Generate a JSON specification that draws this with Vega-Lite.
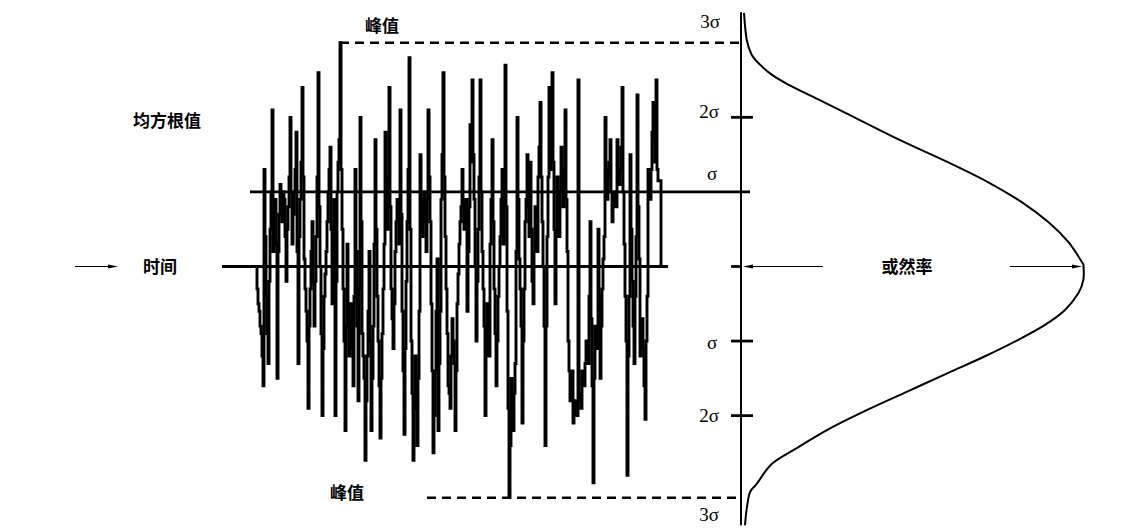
{
  "$schema": "https://vega.github.io/schema/vega-lite/v6.json",
  "width": 1140,
  "height": 530,
  "autosize": {"type": "fit", "contains": "padding"},
  "padding": 0,
  "background": "white",
  "config": {"view": {"stroke": null}},
  "datasets": {
    "signal": [
      {"t":256,"v":0},{"t":257,"v":-0.3},{"t":258,"v":-0.5},{"t":259,"v":-0.6},{"t":260,"v":-0.8},{"t":261,"v":-0.9},{"t":262,"v":-1.2},{"t":263,"v":-1.6},{"t":264,"v":1.3},{"t":265,"v":0.4},{"t":266,"v":-0.4},{"t":267,"v":-0.9},{"t":268,"v":-1.3},{"t":269,"v":-0.2},{"t":270,"v":0.5},{"t":271,"v":1.0},{"t":272,"v":2.1},{"t":273,"v":0.2},{"t":274,"v":0.6},{"t":275,"v":0.9},{"t":276,"v":0.3},{"t":277,"v":-1.5},{"t":278,"v":0.2},{"t":279,"v":0.7},{"t":280,"v":1.1},{"t":281,"v":0.8},{"t":282,"v":0.6},{"t":283,"v":1.0},{"t":284,"v":0.9},{"t":285,"v":0.4},{"t":286,"v":-0.2},{"t":287,"v":0.5},{"t":288,"v":0.8},{"t":289,"v":1.2},{"t":290,"v":2.0},{"t":291,"v":1.0},{"t":292,"v":0.3},{"t":293,"v":0.7},{"t":294,"v":1.0},{"t":295,"v":1.3},{"t":296,"v":1.8},{"t":297,"v":0.2},{"t":298,"v":-1.3},{"t":299,"v":0.4},{"t":300,"v":0.9},{"t":301,"v":1.4},{"t":302,"v":2.4},{"t":303,"v":1.2},{"t":304,"v":0.1},{"t":305,"v":-0.3},{"t":306,"v":-0.6},{"t":307,"v":-1.0},{"t":308,"v":-1.9},{"t":309,"v":-0.8},{"t":310,"v":-0.3},{"t":311,"v":0.2},{"t":312,"v":0.6},{"t":313,"v":-0.2},{"t":314,"v":-0.8},{"t":315,"v":-0.2},{"t":316,"v":0.4},{"t":317,"v":1.2},{"t":318,"v":2.6},{"t":319,"v":0.8},{"t":320,"v":0.0},{"t":321,"v":-0.9},{"t":322,"v":-2.0},{"t":323,"v":-1.1},{"t":324,"v":-0.4},{"t":325,"v":-0.1},{"t":326,"v":0.2},{"t":327,"v":0.6},{"t":328,"v":1.0},{"t":329,"v":1.3},{"t":330,"v":1.6},{"t":331,"v":0.5},{"t":332,"v":-0.5},{"t":333,"v":0.3},{"t":334,"v":0.9},{"t":335,"v":-2.0},{"t":336,"v":-0.2},{"t":337,"v":1.0},{"t":338,"v":1.4},{"t":339,"v":1.7},{"t":340,"v":3.0},{"t":341,"v":1.3},{"t":342,"v":0.5},{"t":343,"v":-0.3},{"t":344,"v":-1.0},{"t":345,"v":-2.2},{"t":346,"v":-0.8},{"t":347,"v":0.3},{"t":348,"v":-0.5},{"t":349,"v":-1.2},{"t":350,"v":-0.9},{"t":351,"v":-0.5},{"t":352,"v":-1.1},{"t":353,"v":-1.6},{"t":354,"v":-0.4},{"t":355,"v":1.3},{"t":356,"v":0.2},{"t":357,"v":-0.8},{"t":358,"v":-1.8},{"t":359,"v":-0.3},{"t":360,"v":2.0},{"t":361,"v":0.6},{"t":362,"v":-0.9},{"t":363,"v":-1.2},{"t":364,"v":-1.5},{"t":365,"v":-2.6},{"t":366,"v":-1.8},{"t":367,"v":-1.2},{"t":368,"v":-0.6},{"t":369,"v":0.2},{"t":370,"v":-1.0},{"t":371,"v":-2.2},{"t":372,"v":-1.5},{"t":373,"v":-0.8},{"t":374,"v":0.3},{"t":375,"v":1.7},{"t":376,"v":0.5},{"t":377,"v":-0.4},{"t":378,"v":-1.0},{"t":379,"v":-1.6},{"t":380,"v":-2.3},{"t":381,"v":-1.5},{"t":382,"v":-0.9},{"t":383,"v":-0.3},{"t":384,"v":0.3},{"t":385,"v":1.8},{"t":386,"v":1.0},{"t":387,"v":0.5},{"t":388,"v":1.2},{"t":389,"v":2.4},{"t":390,"v":0.8},{"t":391,"v":-0.3},{"t":392,"v":-0.7},{"t":393,"v":-1.1},{"t":394,"v":-0.5},{"t":395,"v":0.2},{"t":396,"v":0.6},{"t":397,"v":0.9},{"t":398,"v":0.6},{"t":399,"v":0.3},{"t":400,"v":2.1},{"t":401,"v":0.7},{"t":402,"v":-0.6},{"t":403,"v":-1.4},{"t":404,"v":-2.25},{"t":405,"v":-1.1},{"t":406,"v":-0.2},{"t":407,"v":0.6},{"t":408,"v":1.3},{"t":409,"v":2.8},{"t":410,"v":0.5},{"t":411,"v":-1.0},{"t":412,"v":-1.7},{"t":413,"v":-2.6},{"t":414,"v":-1.9},{"t":415,"v":-1.2},{"t":416,"v":-1.8},{"t":417,"v":-2.4},{"t":418,"v":-1.5},{"t":419,"v":-0.6},{"t":420,"v":1.5},{"t":421,"v":0.9},{"t":422,"v":0.4},{"t":423,"v":0.8},{"t":424,"v":1.0},{"t":425,"v":0.6},{"t":426,"v":0.2},{"t":427,"v":0.9},{"t":428,"v":2.1},{"t":429,"v":1.2},{"t":430,"v":0.6},{"t":431,"v":-0.5},{"t":432,"v":-1.4},{"t":433,"v":-2.5},{"t":434,"v":-2.0},{"t":435,"v":-1.4},{"t":436,"v":-0.6},{"t":437,"v":0.1},{"t":438,"v":-2.2},{"t":439,"v":-1.3},{"t":440,"v":-0.6},{"t":441,"v":0.9},{"t":442,"v":1.5},{"t":443,"v":2.6},{"t":444,"v":1.2},{"t":445,"v":0.4},{"t":446,"v":-0.3},{"t":447,"v":-0.9},{"t":448,"v":-1.6},{"t":449,"v":-1.7},{"t":450,"v":-1.9},{"t":451,"v":-1.2},{"t":452,"v":-0.7},{"t":453,"v":-1.0},{"t":454,"v":-1.3},{"t":455,"v":-2.2},{"t":456,"v":-1.4},{"t":457,"v":-0.5},{"t":458,"v":-0.1},{"t":459,"v":0.3},{"t":460,"v":0.6},{"t":461,"v":0.8},{"t":462,"v":1.3},{"t":463,"v":0.9},{"t":464,"v":0.5},{"t":465,"v":0.7},{"t":466,"v":0.9},{"t":467,"v":-0.6},{"t":468,"v":0.2},{"t":469,"v":0.8},{"t":470,"v":1.9},{"t":471,"v":1.4},{"t":472,"v":2.5},{"t":473,"v":1.5},{"t":474,"v":0.9},{"t":475,"v":0.0},{"t":476,"v":-1.0},{"t":477,"v":-0.2},{"t":478,"v":0.5},{"t":479,"v":1.2},{"t":480,"v":2.5},{"t":481,"v":1.0},{"t":482,"v":0.2},{"t":483,"v":-0.3},{"t":484,"v":-0.8},{"t":485,"v":-2.0},{"t":486,"v":-1.2},{"t":487,"v":-0.5},{"t":488,"v":-0.8},{"t":489,"v":-1.2},{"t":490,"v":0.3},{"t":491,"v":0.9},{"t":492,"v":1.7},{"t":493,"v":0.6},{"t":494,"v":-0.3},{"t":495,"v":-0.9},{"t":496,"v":-1.6},{"t":497,"v":-1.0},{"t":498,"v":-0.4},{"t":499,"v":0.0},{"t":500,"v":0.4},{"t":501,"v":0.9},{"t":502,"v":1.3},{"t":503,"v":0.3},{"t":504,"v":1.2},{"t":505,"v":2.7},{"t":506,"v":0.8},{"t":507,"v":-0.6},{"t":508,"v":-1.9},{"t":509,"v":-3.1},{"t":510,"v":-2.4},{"t":511,"v":-1.5},{"t":512,"v":-1.8},{"t":513,"v":-2.2},{"t":514,"v":-1.7},{"t":515,"v":-1.3},{"t":516,"v":0.2},{"t":517,"v":2.0},{"t":518,"v":0.9},{"t":519,"v":0.1},{"t":520,"v":-0.3},{"t":521,"v":-0.8},{"t":522,"v":-2.1},{"t":523,"v":-1.0},{"t":524,"v":-0.3},{"t":525,"v":0.6},{"t":526,"v":0.9},{"t":527,"v":1.5},{"t":528,"v":0.8},{"t":529,"v":0.4},{"t":530,"v":1.4},{"t":531,"v":0.5},{"t":532,"v":-0.2},{"t":533,"v":-0.5},{"t":534,"v":0.2},{"t":535,"v":0.8},{"t":536,"v":0.5},{"t":537,"v":0.2},{"t":538,"v":1.2},{"t":539,"v":1.6},{"t":540,"v":2.2},{"t":541,"v":1.2},{"t":542,"v":0.6},{"t":543,"v":0.0},{"t":544,"v":-0.8},{"t":545,"v":-2.4},{"t":546,"v":-0.8},{"t":547,"v":0.4},{"t":548,"v":1.2},{"t":549,"v":2.4},{"t":550,"v":1.3},{"t":551,"v":1.8},{"t":552,"v":2.6},{"t":553,"v":1.4},{"t":554,"v":0.5},{"t":555,"v":-0.5},{"t":556,"v":0.4},{"t":557,"v":1.2},{"t":558,"v":0.8},{"t":559,"v":0.4},{"t":560,"v":1.0},{"t":561,"v":1.6},{"t":562,"v":1.2},{"t":563,"v":0.8},{"t":564,"v":1.3},{"t":565,"v":2.1},{"t":566,"v":0.9},{"t":567,"v":0.2},{"t":568,"v":-1.0},{"t":569,"v":-1.4},{"t":570,"v":-1.8},{"t":571,"v":-1.6},{"t":572,"v":-1.4},{"t":573,"v":-2.1},{"t":574,"v":-2.0},{"t":575,"v":-1.8},{"t":576,"v":-1.9},{"t":577,"v":-2.0},{"t":578,"v":2.5},{"t":579,"v":-1.7},{"t":580,"v":-1.8},{"t":581,"v":-1.9},{"t":582,"v":-1.4},{"t":583,"v":-1.5},{"t":584,"v":-1.6},{"t":585,"v":-1.3},{"t":586,"v":-1.0},{"t":587,"v":-1.2},{"t":588,"v":-1.3},{"t":589,"v":-0.4},{"t":590,"v":0.6},{"t":591,"v":-0.7},{"t":592,"v":-1.6},{"t":593,"v":-2.9},{"t":594,"v":-1.5},{"t":595,"v":-0.8},{"t":596,"v":-1.0},{"t":597,"v":-1.1},{"t":598,"v":0.5},{"t":599,"v":-0.4},{"t":600,"v":-1.5},{"t":601,"v":-0.8},{"t":602,"v":-0.3},{"t":603,"v":0.1},{"t":604,"v":0.4},{"t":605,"v":2.0},{"t":606,"v":1.3},{"t":607,"v":0.9},{"t":608,"v":1.2},{"t":609,"v":1.4},{"t":610,"v":1.7},{"t":611,"v":1.0},{"t":612,"v":0.6},{"t":613,"v":0.8},{"t":614,"v":1.0},{"t":615,"v":0.9},{"t":616,"v":0.8},{"t":617,"v":1.7},{"t":618,"v":1.3},{"t":619,"v":1.1},{"t":620,"v":1.3},{"t":621,"v":1.6},{"t":622,"v":2.4},{"t":623,"v":1.0},{"t":624,"v":0.3},{"t":625,"v":-0.4},{"t":626,"v":-1.0},{"t":627,"v":-2.8},{"t":628,"v":-1.2},{"t":629,"v":-0.4},{"t":630,"v":1.5},{"t":631,"v":0.5},{"t":632,"v":-0.2},{"t":633,"v":-0.8},{"t":634,"v":-1.3},{"t":635,"v":-0.4},{"t":636,"v":0.4},{"t":637,"v":2.3},{"t":638,"v":0.8},{"t":639,"v":0.1},{"t":640,"v":-1.2},{"t":641,"v":-0.9},{"t":642,"v":-0.7},{"t":643,"v":-1.1},{"t":644,"v":-1.6},{"t":645,"v":-2.05},{"t":646,"v":-1.0},{"t":647,"v":-0.4},{"t":648,"v":1.3},{"t":649,"v":1.1},{"t":650,"v":0.9},{"t":651,"v":1.3},{"t":652,"v":1.8},{"t":653,"v":2.2},{"t":654,"v":1.7},{"t":655,"v":1.4},{"t":656,"v":2.5},{"t":657,"v":1.3},{"t":658,"v":1.15},{"t":659,"v":1.15},{"t":660,"v":1.15},{"t":661,"v":0}
    ],
    "curve": [
      {"z":3.4,"p":744},{"z":3.04,"p":746.7},{"z":2.84,"p":751.7},{"z":2.707,"p":760},{"z":2.573,"p":771.7},{"z":2.44,"p":788.3},{"z":2.24,"p":818.3},{"z":1.973,"p":858.3},{"z":1.684,"p":901.7},{"z":1.396,"p":948.3},{"z":1.129,"p":988.3},{"z":0.863,"p":1021.7},{"z":0.596,"p":1048.3},{"z":0.329,"p":1068.3},{"z":0.063,"p":1081.7},{"z":0,"p":1083.5},{"z":-0.183,"p":1083.3},{"z":-0.36,"p":1078.3},{"z":-0.583,"p":1065},{"z":-0.783,"p":1045},{"z":-0.983,"p":1018.3},{"z":-1.204,"p":985},{"z":-1.427,"p":948.3},{"z":-1.671,"p":908.3},{"z":-1.916,"p":868.3},{"z":-2.183,"p":828.3},{"z":-2.449,"p":795},{"z":-2.649,"p":771.7},{"z":-2.916,"p":756.7},{"z":-3.027,"p":750},{"z":-3.249,"p":746.7},{"z":-3.47,"p":745}
    ]
  },
  "layer": [
    {
      "data": {"name": "signal"},
      "mark": {"type": "line", "color": "black", "strokeWidth": 2.9, "interpolate": "step-after", "strokeJoin": "miter"},
      "encoding": {
        "x": {"field": "t", "type": "quantitative", "scale": {"domain": [0, 1140], "nice": false, "zero": false}, "axis": null},
        "y": {"field": "v", "type": "quantitative", "scale": {"domain": [-3.4933, 3.5733], "nice": false, "zero": false}, "axis": null}
      }
    },
    {
      "data": {"values": [
        {"x1": 222, "x2": 668, "z1": 0, "z2": 0},
        {"x1": 250, "x2": 750, "z1": 1, "z2": 1},
        {"x1": 731, "x2": 753, "z1": 2, "z2": 2},
        {"x1": 731, "x2": 753, "z1": -1, "z2": -1},
        {"x1": 731, "x2": 753, "z1": -2, "z2": -2},
        {"x1": 731, "x2": 741, "z1": 0, "z2": 0}
      ]},
      "mark": {"type": "rule", "color": "black", "strokeWidth": 2.8},
      "encoding": {
        "x": {"field": "x1", "type": "quantitative"},
        "x2": {"field": "x2"},
        "y": {"field": "z1", "type": "quantitative"},
        "y2": {"field": "z2"}
      }
    },
    {
      "data": {"values": [{"x1": 741, "x2": 741, "z1": 3.41, "z2": -3.47}]},
      "mark": {"type": "rule", "color": "black", "strokeWidth": 2},
      "encoding": {
        "x": {"field": "x1", "type": "quantitative"},
        "x2": {"field": "x2"},
        "y": {"field": "z1", "type": "quantitative"},
        "y2": {"field": "z2"}
      }
    },
    {
      "data": {"values": [
        {"x1": 340, "x2": 741, "z": 3.0},
        {"x1": 427, "x2": 741, "z": -3.1}
      ]},
      "mark": {"type": "rule", "color": "black", "strokeWidth": 2.5, "strokeDash": [9, 6]},
      "encoding": {
        "x": {"field": "x1", "type": "quantitative"},
        "x2": {"field": "x2"},
        "y": {"field": "z", "type": "quantitative"}
      }
    },
    {
      "data": {"values": [
        {"x1": 75, "x2": 113, "z": 0},
        {"x1": 748, "x2": 823, "z": 0},
        {"x1": 1010, "x2": 1077, "z": 0}
      ]},
      "mark": {"type": "rule", "color": "black", "strokeWidth": 1.2},
      "encoding": {
        "x": {"field": "x1", "type": "quantitative"},
        "x2": {"field": "x2"},
        "y": {"field": "z", "type": "quantitative"}
      }
    },
    {
      "data": {"values": [
        {"x": 113, "z": 0, "dir": "right"},
        {"x": 748, "z": 0, "dir": "left"},
        {"x": 1077, "z": 0, "dir": "right"}
      ]},
      "mark": {"type": "point", "filled": true, "color": "black", "opacity": 1, "size": 100, "strokeWidth": 0},
      "encoding": {
        "x": {"field": "x", "type": "quantitative"},
        "y": {"field": "z", "type": "quantitative"},
        "shape": {"field": "dir", "type": "nominal", "legend": null, "scale": {"domain": ["right", "left"], "range": ["M -1 -0.4 L 1 0 L -1 0.4 Z", "M 1 -0.4 L -1 0 L 1 0.4 Z"]}}
      }
    },
    {
      "data": {"name": "curve"},
      "mark": {"type": "line", "color": "black", "strokeWidth": 2, "interpolate": "cardinal"},
      "encoding": {
        "x": {"field": "p", "type": "quantitative"},
        "y": {"field": "z", "type": "quantitative"},
        "order": {"field": "z", "type": "quantitative", "sort": "descending"}
      }
    },
    {
      "data": {"values": [
        {"label": "峰值", "x": 382, "z": 3.213},
        {"label": "峰值", "x": 347, "z": -3.053},
        {"label": "均方根值", "x": 167, "z": 1.933},
        {"label": "时间", "x": 160, "z": -0.02},
        {"label": "或然率", "x": 907, "z": -0.02}
      ]},
      "mark": {"type": "text", "font": "Noto Sans CJK SC", "fontWeight": "bold", "fontSize": 17, "color": "black", "align": "center", "baseline": "middle"},
      "encoding": {
        "x": {"field": "x", "type": "quantitative"},
        "y": {"field": "z", "type": "quantitative"},
        "text": {"field": "label"}
      }
    },
    {
      "data": {"values": [
        {"label": "3σ", "x": 710, "z": 3.28},
        {"label": "2σ", "x": 709, "z": 2.067},
        {"label": "σ", "x": 712, "z": 1.24},
        {"label": "σ", "x": 712, "z": -1.027},
        {"label": "2σ", "x": 709, "z": -2.0},
        {"label": "3σ", "x": 709, "z": -3.333}
      ]},
      "mark": {"type": "text", "font": "Liberation Serif", "fontSize": 19, "color": "black", "align": "center", "baseline": "middle"},
      "encoding": {
        "x": {"field": "x", "type": "quantitative"},
        "y": {"field": "z", "type": "quantitative"},
        "text": {"field": "label"}
      }
    }
  ]
}
